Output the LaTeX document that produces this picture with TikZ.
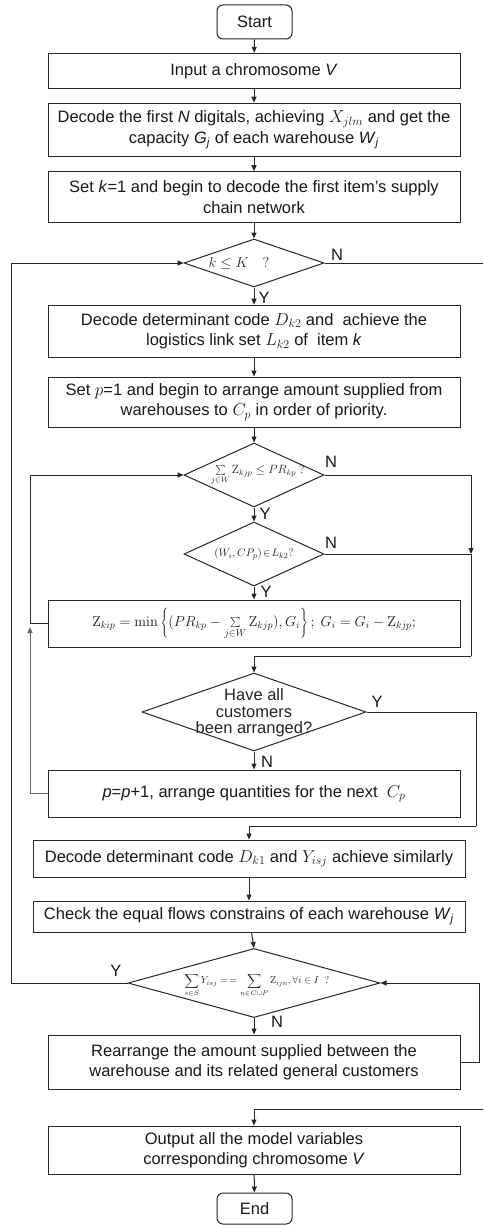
\documentclass[tikz,border=0pt]{standalone}
\usepackage[no-math]{fontspec}
\setmainfont{Liberation Sans}
\usetikzlibrary{shapes.geometric,arrows.meta}

\newcommand\fsz{\fontsize{16.5}{20.5}\selectfont}
\newcommand\dsz{\fontsize{16.5}{16.5}\selectfont}
\newcommand\itsub[2]{\textit{#1}\textsubscript{\textit{#2}}}

\tikzset{
  line/.style={draw=black!85, line width=1pt},
  arr/.style={line, -{Triangle[length=6pt,width=5pt]}},
  box/.style={line, rectangle, fill=white, inner sep=0pt, align=center, font=\fsz, text=black!90},
  term/.style={box, rounded corners=6pt},
  dia/.style={line, diamond, inner sep=0pt, fill=white},
  dtext/.style={inner sep=0pt, align=center, text=black!85},
  lbl/.style={font=\fsz, inner sep=0pt, text=black!90},
}

\begin{document}
\begin{tikzpicture}[x=1pt,y=-1pt]
\useasboundingbox[fill=white] (0,0) rectangle (483,1225);

% ---- process boxes ----
\node[term, minimum width=75pt, minimum height=34pt] (start) at (254.5,22) {Start};
\node[box, minimum width=412pt, minimum height=35pt] (b1) at (254,70.8) {Input a chromosome \textit{V}};
\node[box, minimum width=412pt, minimum height=53pt] (b2) at (254,129.7)
  {Decode the first \textit{N} digitals, achieving $X_{jlm}$ and get the\\capacity \itsub{G}{j} of each warehouse \itsub{W}{j}};
\node[box, minimum width=412pt, minimum height=51pt] (b3) at (254,197.2)
  {Set \textit{k}=1 and begin to decode the first item’s supply\\chain network};
\node[dia, minimum width=140pt, minimum height=48pt] (d1) at (254,263) {};
\node[dtext, font=\fontsize{14}{16}\selectfont] (d1t) at (239,263) {$k \le K\quad ?$};

\node[box, minimum width=412pt, minimum height=52pt] (b4) at (254,331.2)
  {Decode determinant code $D_{k2}$ and\ \ achieve the\\logistics link set $L_{k2}$ of\ \ item \textit{k}};
\node[box, minimum width=412pt, minimum height=50pt] (b5) at (254,402)
  {Set $p$=1 and begin to arrange amount supplied from\\warehouses to $C_p$ in order of priority.};

\node[dia, minimum width=140pt, minimum height=64pt] (d2) at (254,475) {};
\node[dtext, font=\fontsize{11.5}{13}\selectfont] (d2t) at (258,475)
  {$\mathop{\textstyle\sum}\limits_{j\in W} \mathrm{Z}_{kjp} \le PR_{kp}\ ?$};
\node[dia, minimum width=140pt, minimum height=64pt] (d3) at (254,554) {};
\node[dtext, font=\fontsize{11}{13}\selectfont] (d3t) at (254,554)
  {$(W_i, CP_p)\mskip2mu{\in}\mskip2mu L_{k2}?$};

\node[box, minimum width=412pt, minimum height=47pt] (b6) at (254,623.5)
  {\fontsize{13.8}{16}\selectfont$\mathrm{Z}_{kip} = \min\left\{(PR_{kp} - \mathop{\textstyle\sum}\limits_{j\in W} \mathrm{Z}_{kjp}), G_i\right\};\ G_i = G_i - \mathrm{Z}_{kjp};$};

\node[dia, minimum width=224pt, minimum height=78pt] (d4) at (254,712) {};
\node[dtext, font=\dsz] (d4t) at (254,713) {Have all\\customers\\been arranged?};

\node[box, minimum width=412pt, minimum height=47pt] (b7) at (254,793.5)
  {\textit{p}=\textit{p}+1, arrange quantities for the next\ \ $C_p$};
\node[box, minimum width=432pt, minimum height=37pt] (b8) at (249,858.5)
  {Decode determinant code $D_{k1}$ and $Y_{isj}$ achieve similarly};
\node[box, minimum width=432pt, minimum height=31pt] (b9) at (249,916.5)
  {Check the equal flows constrains of each warehouse \itsub{W}{j}};

\node[dia, minimum width=252pt, minimum height=69pt] (d5) at (254,983) {};
\node[dtext, font=\fontsize{10}{12}\selectfont] (d5t) at (257,985)
  {$\displaystyle\sum_{s\in S} Y_{isj} \mathrel{=\,=} \sum_{n\in C\cup P} \mathrm{Z}_{ijn}, \forall i\in I\ \ ?$};

\node[box, minimum width=412pt, minimum height=54pt] (b10) at (254,1062)
  {Rearrange the amount supplied between the\\warehouse and its related general customers};
\node[box, minimum width=412pt, minimum height=48pt] (b11) at (254,1150)
  {Output all the model variables\\corresponding chromosome \textit{V}};
\node[term, minimum width=75pt, minimum height=31pt] (end) at (254.5,1208.5) {End};

% ---- routing points ----
\coordinate (kN) at (483,263);
\coordinate (kIn) at (483,1109);
\coordinate (pR) at (471,554);
\coordinate (pM) at (471,656);
\coordinate (aR) at (476,826);
\coordinate (pL) at (30,627);
\coordinate (oL) at (11,0);
\coordinate (rR) at (479,0);

% ---- main flow ----
\draw[arr] (start) -- (b1);
\draw[arr] (b1) -- (b2);
\draw[arr] (b2) -- (b3);
\draw[arr] (b3) -- (d1.north);
\draw[arr] (d1.south) -- (b4);
\draw[arr] (b4) -- (b5);
\draw[arr] (b5) -- (d2.north);
\draw[arr] (d2.south) -- (d3.north);
\draw[arr] (d3.south) -- (b6);
\draw[arr] (d4.south) -- (b7);
\draw[arr] (b8) -- (b9);
\draw[arr] (b9) -- (d5.north);
\draw[arr] (d5.south) -- (b10);
\draw[arr] (b11) -- (end);

% ---- branches and loops ----
\draw[line] (d1.east) -- (kN);
\draw[arr] (kIn) -| (b11.north);
\draw[arr] (d2.east) -| (pR);
\draw[line] (d3.east) -- (pR) -- (pM);
\draw[arr] (pM) -| (d4.north);
\draw[arr] (b6.west) -| (pL |- d2.west) -- (d2.west);
\draw[arr, draw=black!60] (b7.west) -| (pL);
\draw[line] (d4.east) -| (aR);
\draw[arr] (aR) -| (b8.north);
\draw[arr] (d5.west) -- (oL |- d5.west) -- (oL |- d1.west) -- (d1.west);
\draw[arr] (b10.east) -- (rR |- b10.east) -- (rR |- d5.east) -- (d5.east);

% ---- branch labels ----
\node[lbl] (n1) at (337,255) {N};
\node[lbl] (y1) at (264,298) {Y};
\node[lbl] (n2) at (331,462) {N};
\node[lbl] (y2) at (265,514) {Y};
\node[lbl] (n3) at (331,543) {N};
\node[lbl] (y3) at (266,592) {Y};
\node[lbl] (y4) at (377,702) {Y};
\node[lbl] (n4) at (267,762) {N};
\node[lbl] (y5) at (116,971) {Y};
\node[lbl] (n5) at (277,1022) {N};
\end{tikzpicture}
\end{document}
